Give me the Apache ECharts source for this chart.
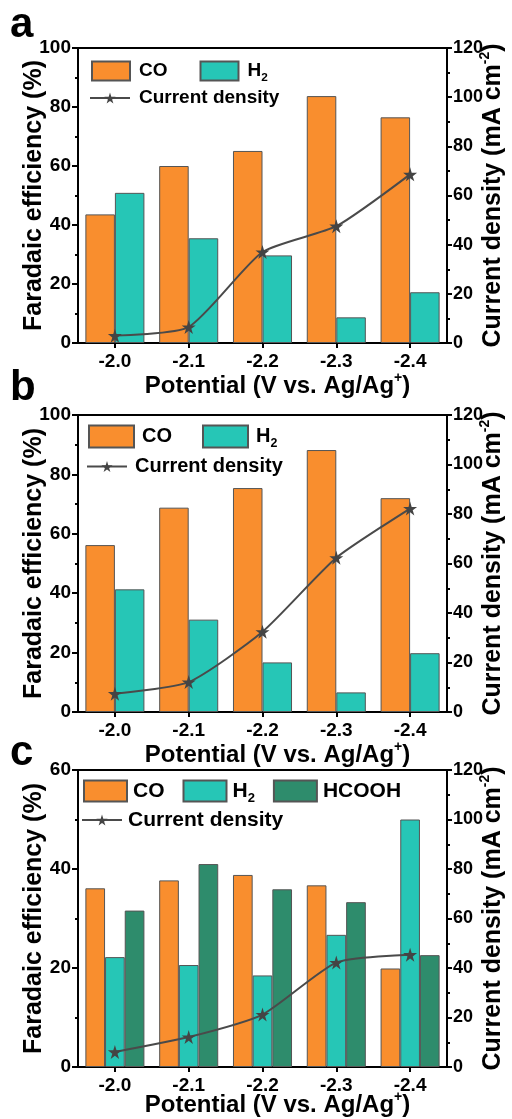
<!DOCTYPE html>
<html>
<head>
<meta charset="utf-8">
<style>
  html, body { margin: 0; padding: 0; background: #fff; }
  #chart { width: 512px; height: 1119px; }
</style>
<script src="https://cdn.jsdelivr.net/npm/echarts@6/dist/echarts.min.js"></script>
</head>
<body>
<div id="chart"></div>
<script>
const categories = ['-2.0', '-2.1', '-2.2', '-2.3', '-2.4']

// panel a
const coA = [43.6, 60, 65.1, 83.7, 76.5]
const h2A = [50.9, 35.5, 29.7, 8.7, 17.2]
const jA = [3, 6.5, 37, 47.5, 68.6]
// panel b
const coB = [56.2, 68.8, 75.4, 88.2, 72]
const h2B = [41.3, 31.1, 16.7, 6.6, 19.8]
const jB = [7.4, 12.1, 32.4, 62.3, 82.2]
// panel c
const coC = [36.1, 37.7, 38.8, 36.7, 19.9]
const h2C = [22.2, 20.6, 18.5, 26.7, 50]
const hcoohC = [31.6, 41, 35.9, 33.3, 22.6]
const jC = [6.1, 12.1, 21.2, 42.2, 45.4]

const feTicksAB = { min: 0, max: 100, interval: 20 }
const feTicksC = { min: 0, max: 60, interval: 20 }
const jTicks = { min: 0, max: 120, interval: 20 }

const FONT = 'Arial, "Liberation Sans", sans-serif'
const ORANGE = '#F98E2E'
const TEAL = '#26C6B6'
const GREEN = '#2E8C6C'
const STAR = 'path://M50,0 L61,35 L98,35 L68,57 L79,91 L50,70 L21,91 L32,57 L2,35 L39,35 Z'

const chart = echarts.init(document.getElementById('chart'))

const grids = [
  { left: 78, top: 48, width: 369, height: 295 },
  { left: 78, top: 415, width: 369, height: 297 },
  { left: 78, top: 770, width: 369, height: 297 }
].map(g => ({ ...g, show: true, borderColor: '#000', borderWidth: 2, containLabel: false, outerBoundsMode: 'none' }))

const axisLine = { show: true, lineStyle: { color: '#000', width: 2 } }
const labelStyle = { color: '#000', fontSize: 19, fontWeight: 'bold', fontFamily: FONT }

const xNameGaps = [28, 28, 23]
const xAxes = [0, 1, 2].map(i => ({
  type: 'category',
  gridIndex: i,
  data: categories,
  axisLine,
  axisTick: { show: true, alignWithLabel: true, length: 5, lineStyle: { color: '#000', width: 2 } },
  axisLabel: { ...labelStyle, margin: 9 },
  name: 'Potential (V vs. Ag/Ag{sup|+})',
  nameLocation: 'middle',
  nameGap: xNameGaps[i],
  nameMoveOverlap: false,
  nameTextStyle: {
    color: '#000', fontSize: 24, fontWeight: 'bold', fontFamily: FONT, lineHeight: 30,
    padding: [0, 0, 0, 30],
    rich: { sup: { fontSize: 14, fontWeight: 'bold', fontFamily: FONT, verticalAlign: 'top' } }
  }
}))

const yName = {
  color: '#000', fontSize: 25, fontWeight: 'bold', fontFamily: FONT, lineHeight: 30,
  rich: { sup: { fontSize: 14, fontWeight: 'bold', fontFamily: FONT, verticalAlign: 'top' } }
}

function leftAxis (i, ticks) {
  return {
    type: 'value', gridIndex: i, position: 'left', ...ticks,
    axisLine,
    axisTick: { show: true, length: 6, lineStyle: { color: '#000', width: 2 } },
    minorTick: { show: true, splitNumber: 2, length: 3, lineStyle: { color: '#000', width: 2 } },
    splitLine: { show: false },
    axisLabel: { ...labelStyle, margin: 7 },
    name: 'Faradaic efficiency (%)',
    nameLocation: 'middle',
    nameGap: 29,
    nameMoveOverlap: false,
    nameTextStyle: yName
  }
}

function rightAxis (i) {
  return {
    type: 'value', gridIndex: i, position: 'right', ...jTicks,
    axisLine,
    axisTick: { show: true, length: 5, lineStyle: { color: '#000', width: 2 } },
    minorTick: { show: true, splitNumber: 2, length: 3, lineStyle: { color: '#000', width: 2 } },
    splitLine: { show: false },
    axisLabel: { ...labelStyle, fontSize: 18, margin: 6 },
    name: 'Current density (mA cm{sup|-2})',
    nameLocation: 'middle',
    nameGap: 31,
    nameMoveOverlap: false,
    nameTextStyle: yName
  }
}

const yAxes = [
  leftAxis(0, feTicksAB), rightAxis(0),
  leftAxis(1, feTicksAB), rightAxis(1),
  leftAxis(2, feTicksC), rightAxis(2)
]

function bar (name, color, data, i) {
  return {
    name, type: 'bar', xAxisIndex: i, yAxisIndex: i * 2, data,
    barGap: '0%', barCategoryGap: '20%',
    itemStyle: { color, borderColor: '#555', borderWidth: 1 }
  }
}

function line (data, i) {
  return {
    name: 'Current density', type: 'line', xAxisIndex: i, yAxisIndex: i * 2 + 1, data,
    smooth: 0.2, symbol: STAR, symbolSize: 14, z: 5,
    lineStyle: { color: '#4a4a4a', width: 2 },
    itemStyle: { color: '#444' }
  }
}

const legendText = (size, pad) => ({
  color: '#000', fontSize: size, fontWeight: 'bold', fontFamily: FONT, lineHeight: size + 7,
  padding: [0, 0, 0, pad],
  rich: { sub: { fontSize: size * 0.62, fontWeight: 'bold', fontFamily: FONT, verticalAlign: 'bottom' } }
})
const legendFmt = n => (n === 'H2' ? 'H{sub|2}' : n)

function legends (top, left, barNames, size, boxW, boxH, gap, pad) {
  return [
    {
      data: barNames, left, top, orient: 'horizontal', icon: 'rect', itemWidth: boxW, itemHeight: boxH,
      itemGap: gap, formatter: legendFmt, textStyle: legendText(size, pad), selectedMode: false, padding: 0
    },
    {
      data: ['Current density'], left: left - 2, top: top + boxH + 8, itemWidth: 40, itemHeight: 14,
      textStyle: legendText(size, pad), selectedMode: false, padding: 0
    }
  ]
}

const option = {
  animation: false,
  backgroundColor: '#fff',
  grid: grids,
  xAxis: xAxes,
  yAxis: yAxes,
  legend: [
    ...legends(58, 91, ['CO', 'H2'], 19, 38, 19, 32, 4),
    ...legends(423, 88, ['CO', 'H2'], 20, 45, 22, 30, 3),
    ...legends(777, 83, ['CO', 'H2', 'HCOOH'], 21, 43, 21, 18, 1)
  ],
  graphic: [
    { type: 'text', left: 10, top: 4, style: { text: 'a', font: `bold 42px ${FONT}`, fill: '#000' } },
    { type: 'text', left: 10, top: 367, style: { text: 'b', font: `bold 42px ${FONT}`, fill: '#000' } },
    { type: 'text', left: 10, top: 732, style: { text: 'c', font: `bold 42px ${FONT}`, fill: '#000' } }
  ],
  series: [
    bar('CO', ORANGE, coA, 0), bar('H2', TEAL, h2A, 0), line(jA, 0),
    bar('CO', ORANGE, coB, 1), bar('H2', TEAL, h2B, 1), line(jB, 1),
    bar('CO', ORANGE, coC, 2), bar('H2', TEAL, h2C, 2), bar('HCOOH', GREEN, hcoohC, 2), line(jC, 2)
  ]
}

chart.setOption(option)
</script>
</body>
</html>
